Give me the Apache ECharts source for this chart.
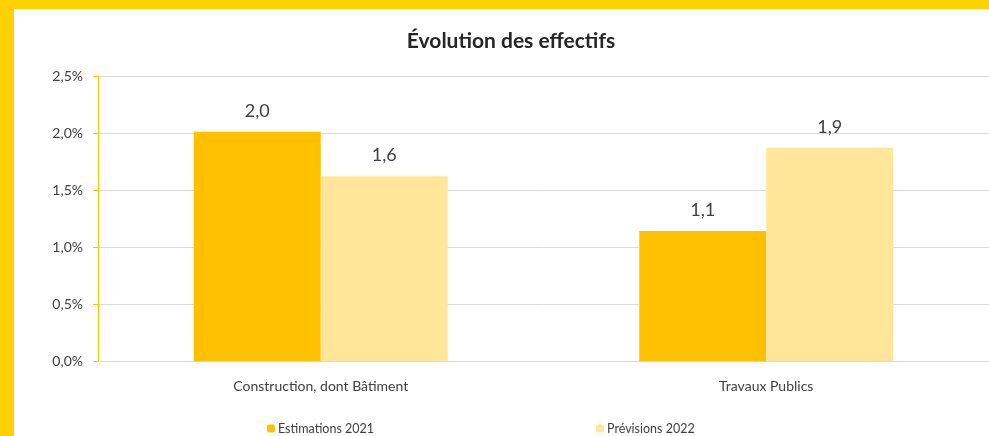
<!DOCTYPE html>
<html>
<head>
<meta charset="utf-8">
<script src="https://cdn.jsdelivr.net/npm/echarts@6/dist/echarts.min.js"></script>
<style>
    html, body { margin: 0; padding: 0; background: #fff; }
    #chart { position: absolute; left: 0; top: 0; width: 989px; height: 436px; }
    .frame-top { position: absolute; left: 0; top: 0; width: 989px; height: 9px; background: #FFD100; z-index: 2; }
    .frame-left { position: absolute; left: 0; top: 0; width: 14px; height: 436px; background: #FFD100; z-index: 2; }
</style>
</head>
<body>
<div id="chart"></div>
<div class="frame-top"></div>
<div class="frame-left"></div>
<script>
// données
const categories = ['Construction, dont Bâtiment', 'Travaux Publics']
const estimations2021 = [2.01, 1.14]
const previsions2022 = [1.62, 1.87]

const fmt = v => v.toFixed(1).replace('.', ',')
const textColor = '#404040'
const font = 'Lato, "Open Sans", sans-serif'

const chart = echarts.init(document.getElementById('chart'))
chart.setOption({
    animation: false,
    textStyle: { fontFamily: font },
    title: {
        text: 'Évolution des effectifs',
        left: 511,
        top: 31,
        textAlign: 'center',
        padding: 0,
        textStyle: { fontSize: 21, fontWeight: 'bold', color: '#262626', fontFamily: font }
    },
    legend: [
        {
            data: ['Estimations 2021'],
            left: 267,
            top: 422,
            padding: 0,
            itemWidth: 8,
            itemHeight: 8,
            itemGap: 4,
            textStyle: { fontSize: 12.5, color: textColor, fontFamily: font, padding: [0, 0, 0, -2] }
        },
        {
            data: ['Prévisions 2022'],
            left: 596,
            top: 422,
            padding: 0,
            itemWidth: 8,
            itemHeight: 8,
            itemGap: 4,
            textStyle: { fontSize: 12.5, color: textColor, fontFamily: font, padding: [0, 0, 0, -2] }
        }
    ],
    grid: { left: 98, top: 76, width: 898, height: 285 },
    xAxis: {
        type: 'category',
        data: categories,
        axisLine: { lineStyle: { color: '#d9d9d9', width: 1 } },
        axisTick: { show: false },
        axisLabel: { color: textColor, fontSize: 14, margin: 18 }
    },
    yAxis: {
        type: 'value',
        min: 0,
        max: 2.5,
        interval: 0.5,
        axisLine: { show: true, lineStyle: { color: '#FFC000', width: 1 } },
        axisTick: { show: true, length: 5, lineStyle: { color: '#FFC000' } },
        splitLine: { lineStyle: { color: '#d9d9d9', width: 1 } },
        axisLabel: { color: textColor, fontSize: 14, margin: 15, formatter: v => fmt(v) + '%' }
    },
    series: [
        {
            name: 'Estimations 2021',
            type: 'bar',
            data: estimations2021,
            barGap: '0%',
            barCategoryGap: '43%',
            itemStyle: { color: '#FFC000' },
            label: { show: true, position: 'top', distance: 12, fontSize: 18, color: textColor, formatter: p => fmt(p.value) }
        },
        {
            name: 'Prévisions 2022',
            type: 'bar',
            data: previsions2022,
            itemStyle: { color: '#FFE699' },
            label: { show: true, position: 'top', distance: 12, fontSize: 18, color: textColor, formatter: p => fmt(p.value) }
        }
    ]
})
</script>
</body>
</html>
